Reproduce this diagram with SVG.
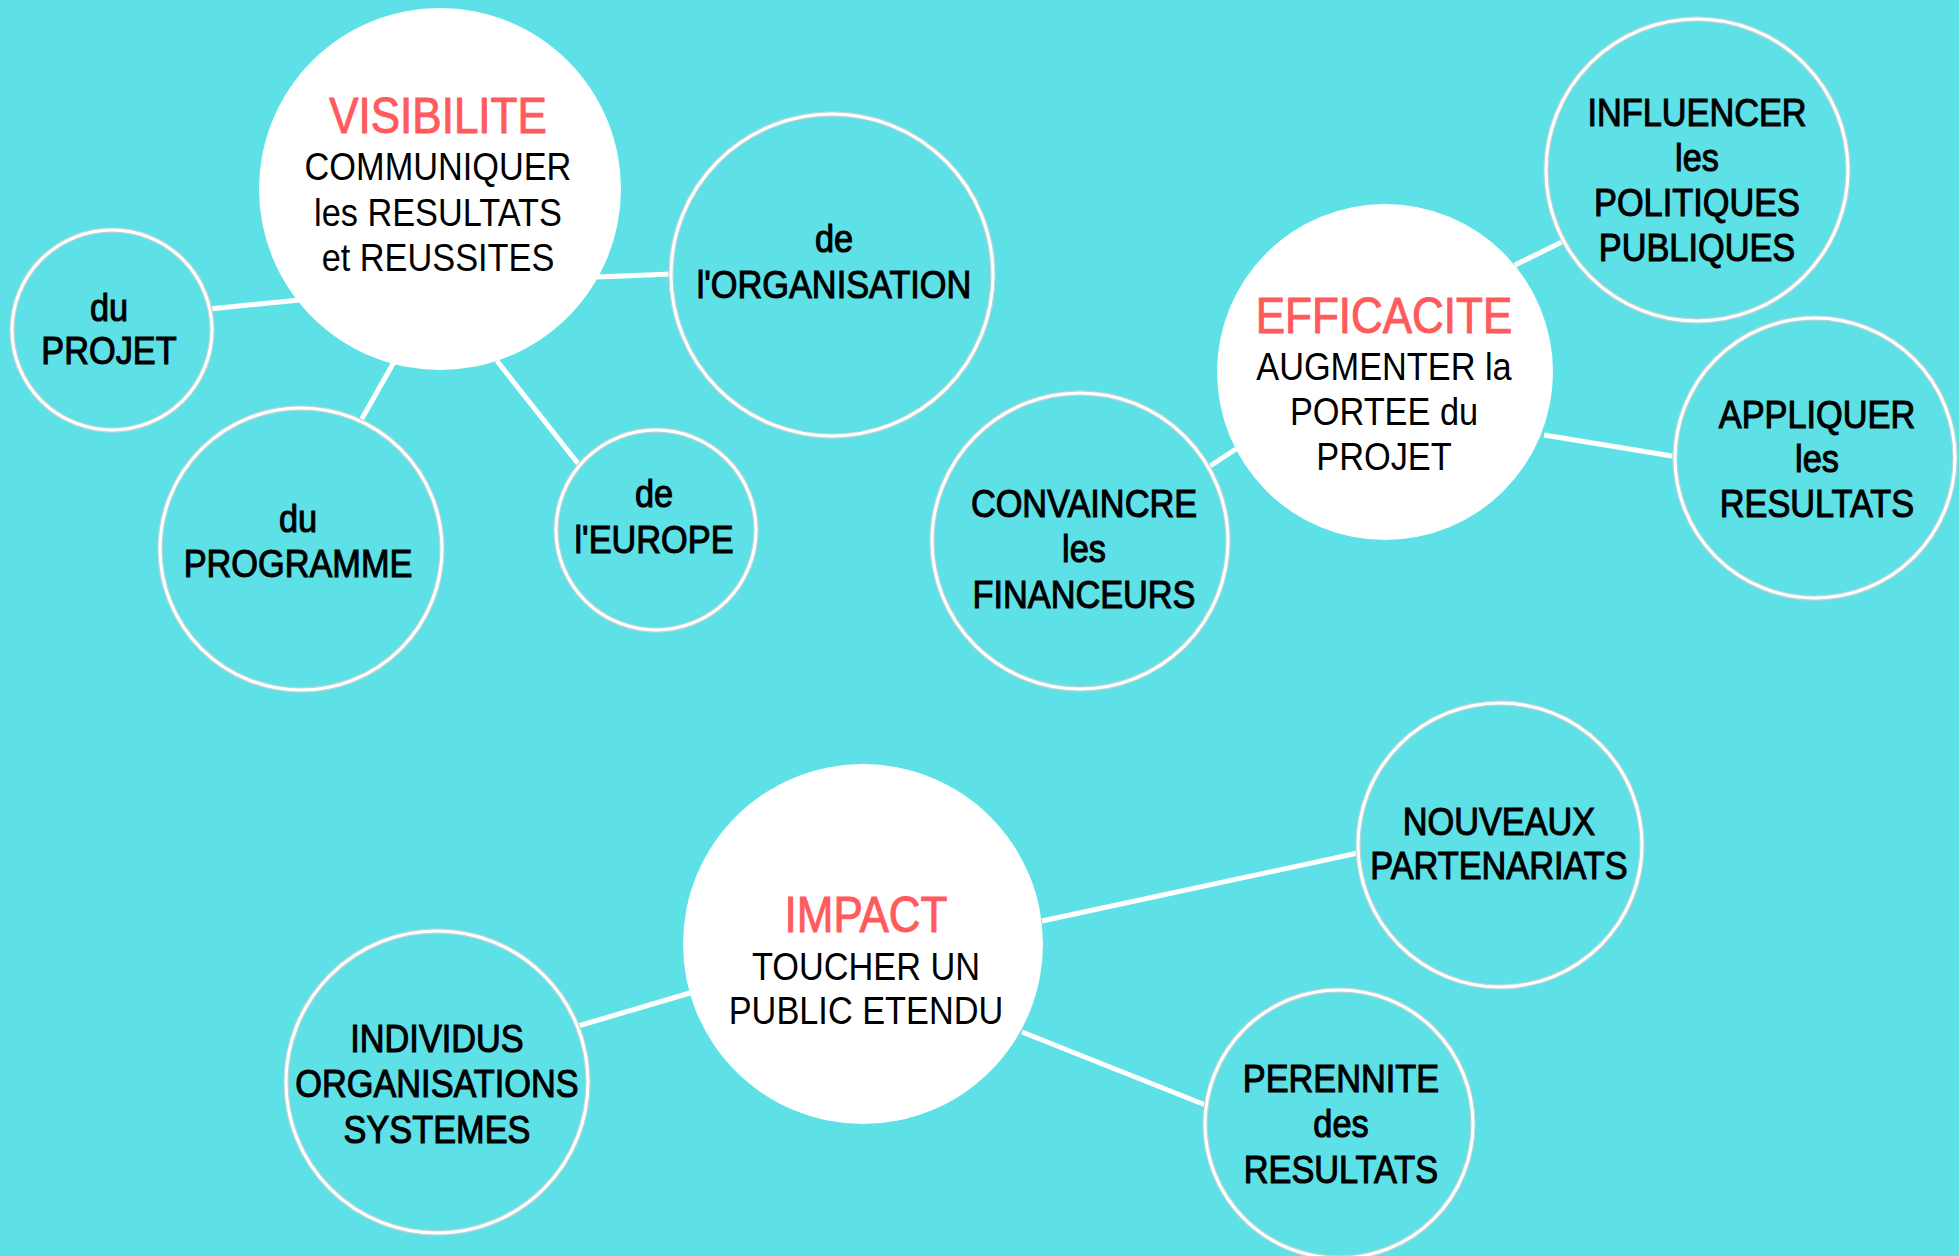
<svg xmlns="http://www.w3.org/2000/svg" width="1959" height="1256" viewBox="0 0 1959 1256">
<style>
.bg{fill:#5DE1E6}
.main{fill:#FFFFFF}
.ringo{fill:#5DE1E6;stroke:#B9D4D6;stroke-width:5.5}
.ringi{fill:none;stroke:#FFFFFF;stroke-width:3}
.link{stroke:#FFFFFF;stroke-width:5;fill:none}
text{font-family:"Liberation Sans",Arial,sans-serif;text-anchor:middle;fill:#000}
.t{font-size:50px;fill:#FF5A5C;stroke:#FF5A5C;stroke-width:1}
.s{font-size:39px}
.b{font-size:39px;stroke:#000;stroke-width:1.1}
</style>
<rect class="bg" x="0" y="0" width="1959" height="1256"/>
<g id="connectors">
<line class="link" x1="209" y1="309" x2="300" y2="300"/>
<line class="link" x1="360" y1="422" x2="394" y2="362"/>
<line class="link" x1="497" y1="361" x2="580" y2="466"/>
<line class="link" x1="597" y1="277" x2="672" y2="274"/>
<line class="link" x1="1515" y1="265" x2="1564" y2="241"/>
<line class="link" x1="1544" y1="435" x2="1678" y2="457"/>
<line class="link" x1="1207" y1="468" x2="1236" y2="449"/>
<line class="link" x1="1042" y1="921" x2="1358" y2="853"/>
<line class="link" x1="1022" y1="1032" x2="1208" y2="1106"/>
<line class="link" x1="578" y1="1026" x2="690" y2="993"/>
</g>
<g id="visibilite">
<circle class="main" cx="440" cy="189" r="181"/>
<g transform="translate(438,0) scale(0.88,1) translate(-438,0)">
<text class="t" x="438" y="133">VISIBILITE</text>
<text class="s" x="438" y="180">COMMUNIQUER</text>
<text class="s" x="438" y="226">les RESULTATS</text>
<text class="s" x="438" y="271">et REUSSITES</text>
</g>
</g>
<g id="du-projet">
<circle class="ringo" cx="112" cy="330" r="100"/><circle class="ringi" cx="112" cy="330" r="100"/>
<g transform="translate(109,0) scale(0.88,1) translate(-109,0)">
<text class="b" x="109" y="321">du</text>
<text class="b" x="109" y="364">PROJET</text>
</g>
</g>
<g id="du-programme">
<circle class="ringo" cx="301" cy="549" r="141"/><circle class="ringi" cx="301" cy="549" r="141"/>
<g transform="translate(298,0) scale(0.88,1) translate(-298,0)">
<text class="b" x="298" y="532">du</text>
<text class="b" x="298" y="577">PROGRAMME</text>
</g>
</g>
<g id="de-europe">
<circle class="ringo" cx="656" cy="530" r="100"/><circle class="ringi" cx="656" cy="530" r="100"/>
<g transform="translate(654,0) scale(0.88,1) translate(-654,0)">
<text class="b" x="654" y="507">de</text>
<text class="b" x="654" y="553">l'EUROPE</text>
</g>
</g>
<g id="de-organisation">
<circle class="ringo" cx="832" cy="275" r="161"/><circle class="ringi" cx="832" cy="275" r="161"/>
<g transform="translate(834,0) scale(0.88,1) translate(-834,0)">
<text class="b" x="834" y="252">de</text>
<text class="b" x="834" y="298">l'ORGANISATION</text>
</g>
</g>
<g id="efficacite">
<circle class="main" cx="1385" cy="372" r="168"/>
<g transform="translate(1384,0) scale(0.88,1) translate(-1384,0)">
<text class="t" x="1384" y="333">EFFICACITE</text>
<text class="s" x="1384" y="380">AUGMENTER la</text>
<text class="s" x="1384" y="425">PORTEE du</text>
<text class="s" x="1384" y="470">PROJET</text>
</g>
</g>
<g id="influencer">
<circle class="ringo" cx="1697" cy="170" r="151"/><circle class="ringi" cx="1697" cy="170" r="151"/>
<g transform="translate(1697,0) scale(0.88,1) translate(-1697,0)">
<text class="b" x="1697" y="126">INFLUENCER</text>
<text class="b" x="1697" y="171">les</text>
<text class="b" x="1697" y="216">POLITIQUES</text>
<text class="b" x="1697" y="261">PUBLIQUES</text>
</g>
</g>
<g id="appliquer">
<circle class="ringo" cx="1815" cy="458" r="140"/><circle class="ringi" cx="1815" cy="458" r="140"/>
<g transform="translate(1817,0) scale(0.88,1) translate(-1817,0)">
<text class="b" x="1817" y="428">APPLIQUER</text>
<text class="b" x="1817" y="472">les</text>
<text class="b" x="1817" y="517">RESULTATS</text>
</g>
</g>
<g id="convaincre">
<circle class="ringo" cx="1080" cy="541" r="148"/><circle class="ringi" cx="1080" cy="541" r="148"/>
<g transform="translate(1084,0) scale(0.88,1) translate(-1084,0)">
<text class="b" x="1084" y="517">CONVAINCRE</text>
<text class="b" x="1084" y="562">les</text>
<text class="b" x="1084" y="608">FINANCEURS</text>
</g>
</g>
<g id="impact">
<circle class="main" cx="863" cy="944" r="180"/>
<g transform="translate(866,0) scale(0.88,1) translate(-866,0)">
<text class="t" x="866" y="932">IMPACT</text>
<text class="s" x="866" y="980">TOUCHER UN</text>
<text class="s" x="866" y="1024">PUBLIC ETENDU</text>
</g>
</g>
<g id="nouveaux">
<circle class="ringo" cx="1500" cy="845" r="142"/><circle class="ringi" cx="1500" cy="845" r="142"/>
<g transform="translate(1499,0) scale(0.88,1) translate(-1499,0)">
<text class="b" x="1499" y="835">NOUVEAUX</text>
<text class="b" x="1499" y="879">PARTENARIATS</text>
</g>
</g>
<g id="perennite">
<circle class="ringo" cx="1339" cy="1124" r="134"/><circle class="ringi" cx="1339" cy="1124" r="134"/>
<g transform="translate(1341,0) scale(0.88,1) translate(-1341,0)">
<text class="b" x="1341" y="1092">PERENNITE</text>
<text class="b" x="1341" y="1137">des</text>
<text class="b" x="1341" y="1183">RESULTATS</text>
</g>
</g>
<g id="individus">
<circle class="ringo" cx="437" cy="1082" r="151"/><circle class="ringi" cx="437" cy="1082" r="151"/>
<g transform="translate(437,0) scale(0.88,1) translate(-437,0)">
<text class="b" x="437" y="1052">INDIVIDUS</text>
<text class="b" x="437" y="1097">ORGANISATIONS</text>
<text class="b" x="437" y="1143">SYSTEMES</text>
</g>
</g>
</svg>
